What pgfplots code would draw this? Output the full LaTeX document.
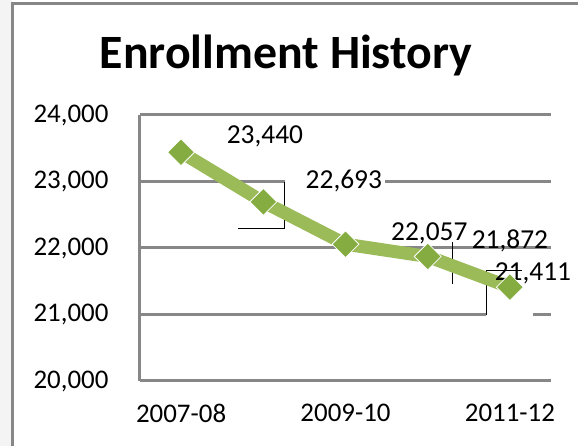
\documentclass[border=0pt]{standalone}
\usepackage{fontspec}
\setmainfont{Carlito}
\usepackage{pgfplots}
\pgfplotsset{compat=1.18}
\definecolor{serieslc}{HTML}{9BBB59}
\definecolor{markc}{HTML}{84AC41}
\definecolor{gridc}{HTML}{878787}
\definecolor{stripc}{HTML}{F4F4F4}
\begin{document}
\begin{tikzpicture}[x=1bp,y=1bp]
\useasboundingbox (-140,-65) rectangle (438,381);
\fill[stripc] (-140,-65) rectangle (-128,381);
\draw[gridc, line width=3bp] (-127,-65) -- (-127,377) -- (438,377);
\node[font=\bfseries\fontsize{48}{56}\selectfont, anchor=base] at (146,312) {Enrollment History};
\begin{axis}[at={(0,0)}, anchor=south west, scale only axis, width=411bp, height=266bp,
  xmin=-0.5, xmax=4.5, ymin=20000, ymax=24000,
  axis x line=bottom, axis y line=left,
  axis line style={-, gridc, line width=3bp},
  ytick={20000,21000,22000,23000,24000},
  scaled y ticks=false,
  xtick={0,2,4}, xticklabels={2007-08,2009-10,2011-12},
  major tick length=0pt,
  ymajorgrids, grid style={gridc, line width=3bp},
  tick label style={font=\fontsize{27}{31}\selectfont},
  yticklabel style={anchor=east, xshift=-28bp},
  xticklabel style={anchor=north, yshift=-20bp},
  clip=false,
  /pgf/number format/.cd, 1000 sep={,}, assume math mode=true
]
% label box artefacts
\fill[white] (axis cs:1.264,23173) rectangle (axis cs:2.48,22827);
\draw[black, line width=1bp] (axis cs:1.252,22992) -- (axis cs:1.252,22286) -- (axis cs:0.692,22286);
\draw[black, line width=1bp] (axis cs:3.296,22090) -- (axis cs:3.296,21459);
\fill[white] (axis cs:3.71,21669) rectangle (axis cs:4.28,20917);
\draw[black, line width=1bp] (axis cs:3.71,20992) -- (axis cs:3.71,21669) -- (axis cs:4.15,21669);
\addplot[serieslc, line width=13bp, mark=square*, mark size=9.5bp,
  mark options={rotate=45, fill=markc, draw=white, line width=0.8bp}]
  coordinates {(0,23440) (1,22693) (2,22057) (3,21872) (4,21411)};
\begin{scope}[font=\fontsize{27.5}{31}\selectfont]
\node[inner sep=0] at (axis cs:1.02,23684) {23,440};
\node[inner sep=0] at (axis cs:1.98,23008) {22,693};
\node[inner sep=0] at (axis cs:3.02,22226) {22,057};
\node[inner sep=0] at (axis cs:4.00,22105) {21,872};
\node[inner sep=0] at (axis cs:4.28,21624) {21,411};
\end{scope}
\end{axis}
\end{tikzpicture}
\end{document}
